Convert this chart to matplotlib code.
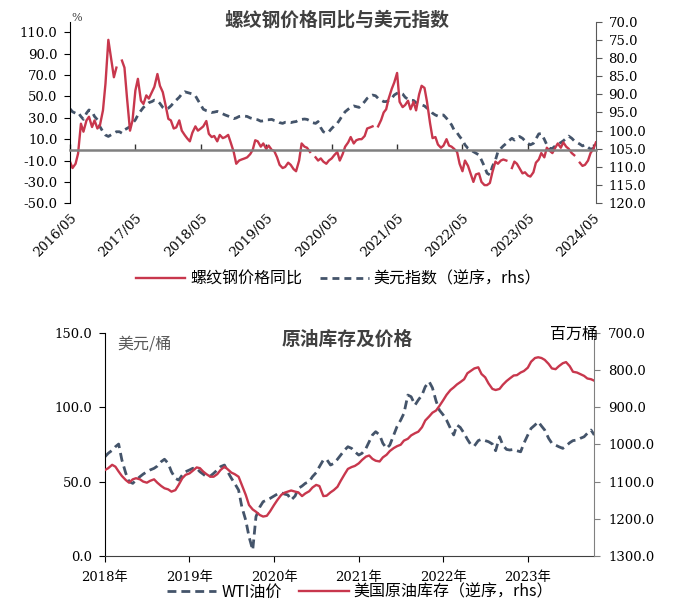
import numpy as np
import pandas as pd
import matplotlib
matplotlib.use('Agg')
import matplotlib.pyplot as plt
import matplotlib.dates as mdates
from matplotlib.ticker import FormatStrFormatter

CJK = ['Noto Sans CJK SC', 'DejaVu Sans']
NUM = ['DejaVu Serif', 'Noto Sans CJK SC']
plt.rcParams['font.family'] = NUM
plt.rcParams['axes.unicode_minus'] = False

nan = np.nan

# top chart: semi-monthly points starting 2016-05
steel_start = '2016-05-01'
steel_yoy = [
    -11, -17, -13, -3.5, 24.5, 17, 27.6, 31, 21.4, 27.6,
    20, 23, 37, 62, 103, 87, 68, 77, nan, 83.6,
    77, 49, 18, 27.6, 55.6, 66.5, 46, 43, 51, 48,
    54, 59, 71, 60, 54, 43, 29, 27.6, 20, 21,
    27.6, 18, 13.7, 10.6, 8, 16, 22, 18, 20, 22,
    27, 15, 12, 13, 8, 14, 11, 12, 14, 7,
    -2, -13, -10, -9, -8, -7, -4, 0, 9, 8,
    3, 6, 1, 4, 0, -1, -7, -14, -17, -16,
    -12, -14, -18, -20, -10, 6, 3, 2, -2, nan,
    -7, -10, -8, -11, -13, -10, -8, -5, -2, -10,
    -4, 3, 7, 12, 6, 9, 10, 10, 13, 20,
    21, 22, nan, 22, 28, 35, 38, 48, 57, 63,
    72, 45, 40, 42, 46, 38, 45, 37, 52, 60,
    58, 45, 25, 11, 12, 5, 2, 4, 10, 4,
    3, 1, -2, -13, -20, -10, -15, -22, -30, -23,
    -22, -30, -33, -33, -31, -21, -11, -13, -10, -9,
    -10, nan, -17, -11, -13, -17, -22, -21, -24, -25,
    -21, -12, -9, -3, -7, 2, -1, -3, 2, 6,
    2, 7, 3, 1, -3, -5, nan, -12, -15, -14,
    -10, -3, 1, 7,
]
dxy = [
    94, 94.8, 95.2, 95, 96.1, 96.9, 95.2, 94.3, 94.8, 96.1,
    97, 98.9, 100.3, 101.2, 101.6, 101.2, 100.7, 100.3, 100.3, 100.7,
    99.8, 99.4, 98.9, 98, 97, 95.7, 94.5, 93.6, 92.9, 92.3,
    92, 91.6, 91.8, 92.5, 93.6, 94.1, 93.8, 93.2, 92.3, 91.6,
    90.8, 89.9, 89.3, 89.5, 89.7, 89.9, 90.4, 91.6, 92.9, 94.1,
    94.5, 94.7, 95, 94.9, 94.7, 95, 95.4, 95.7, 96, 96.3,
    96.7, 96.5, 96.1, 96, 96, 96.1, 96.5, 96.7, 96.9, 97,
    97.4, 97.3, 97, 97, 96.9, 97.2, 97.4, 97.8, 98, 97.7,
    97.7, 97.8, 97.6, 97.5, 97, 96.9, 96.8, 96.9, 97.3, 97.8,
    98, 97.5, 99.2, 100.3, 100.7, 100.3, 99.4, 98.7, 98, 97,
    95.7, 94.8, 94.1, 93.6, 93.2, 93.4, 93.6, 92.9, 92, 91.1,
    90.5, 90.2, 90.4, 91.1, 91.6, 92, 92, 91.7, 91.1, 90.2,
    89.7, 89.5, 89.9, 90.8, 91.4, 91.6, 91.7, 92.3, 92.7, 92.9,
    93.2, 93.8, 94.3, 95.2, 95.7, 96, 95.7, 95.7, 96.6, 97.5,
    98.4, 99.8, 100.6, 101.6, 102.6, 103.9, 104.9, 105.3, 105.8, 106.2,
    106.7, 108.1, 109.9, 111.7, 112.2, 109.9, 108.1, 105.8, 104.9, 104.2,
    103.5, 102.8, 102.1, 102.6, 102.1, 101.6, 102.1, 102.8, 103.5, 103.9,
    103.5, 102.3, 100.9, 100.8, 102.4, 103.9, 104.9, 104.9, 104.2, 103.7,
    103.3, 102.8, 102.1, 101.5, 102.1, 102.8, 103.3, 103.7, 104.2, 103.9,
    104.6, 105.1, 104.9, 104.4,
]
steel_xticks = ['2016/05', '2017/05', '2018/05', '2019/05', '2020/05',
                '2021/05', '2022/05', '2023/05', '2024/05']

# bottom chart: semi-monthly points starting 2018-01
oil_start = '2018-01-01'
wti = [
    66.7, 69, 71, 73.4, 75.2, 64.5, 55.5, 50, 48.8, 51,
    53.3, 55, 56.6, 57.8, 58.9, 60.4, 63.4, 65, 62.2, 56.6,
    52.2, 51, 54.4, 56.6, 57.8, 58.9, 58.9, 56.6, 55, 53.3,
    53.7, 55.5, 57.8, 60, 61.1, 56.6, 52.2, 48.8, 44.3, 33,
    24, 13, 4, 26.4, 33, 36.5, 37.6, 38.7, 40.3, 41.6,
    42.5, 41.6, 41, 37.6, 40.3, 45.4, 47, 48.8, 50, 53.3,
    56, 60, 64.5, 65, 61.1, 62.2, 65, 67.8, 71.2, 73.4,
    72.3, 70, 67.8, 69, 72.3, 76.8, 81.3, 83.5, 81.3, 75.7,
    72.3, 74.5, 81.3, 86.9, 91.3, 95.8, 108.1, 107, 101.4, 104.8,
    108.1, 113.7, 117.1, 113, 104, 98, 94.7, 91.3, 85.7, 81.3,
    88, 86.4, 82.4, 78.4, 74.5, 73.9, 77.5, 78.4, 77.5, 76.8,
    75.2, 70.7, 80.1, 74.5, 71.6, 71.2, 71.6, 70.7, 70, 75.7,
    81.3, 85.7, 88, 90.2, 87.3, 84.6, 79, 75.7, 74.5, 73.4,
    72.3, 73.9, 76.1, 77.5, 77.9, 79, 80.1, 82.4, 84.6, 81.3,
]
crude_stock = [
    1069, 1064, 1055, 1060, 1073, 1085, 1096, 1103, 1094, 1091,
    1094, 1100, 1103, 1098, 1094, 1103, 1112, 1118, 1121, 1127,
    1123, 1109, 1091, 1082, 1078, 1071, 1062, 1064, 1073, 1080,
    1087, 1087, 1080, 1069, 1060, 1067, 1076, 1080, 1087, 1109,
    1136, 1163, 1175, 1181, 1190, 1194, 1192, 1180, 1163, 1150,
    1136, 1130, 1127, 1124, 1127, 1129, 1139, 1132, 1126, 1116,
    1109, 1112, 1139, 1138, 1129, 1123, 1114, 1098, 1080, 1066,
    1061, 1058, 1051, 1042, 1033, 1030, 1039, 1044, 1046, 1035,
    1028, 1018, 1010, 1005, 1001, 990, 985, 976, 970, 966,
    954, 936, 925, 915, 909, 897, 881, 867, 854, 847,
    839, 833, 825, 809, 802, 796, 793, 811, 820, 836,
    851, 854, 851, 840, 830, 823, 815, 814, 807, 803,
    794, 778, 768, 766, 768, 773, 784, 796, 798, 790,
    782, 779, 790, 805, 807, 811, 816, 823, 825, 829,
]
oil_xticks = ['2018年', '2019年', '2020年', '2021年', '2022年', '2023年']

RED = '#C8374D'
BLUE = '#44546A'

fig = plt.figure(figsize=(6.83, 6.16), dpi=100)

# ---------------- top chart ----------------
d1 = pd.date_range(steel_start, periods=len(steel_yoy), freq='SMS')
ax = fig.add_axes([0.1025, 0.670, 0.770, 0.2948])
ax2 = ax.twinx()
l1, = ax.plot(d1, steel_yoy, color=RED, lw=1.7, label='螺纹钢价格同比')
l2, = ax2.plot(d1, dxy, color=BLUE, lw=2.0, dashes=(2.5, 1.8),
               label='美元指数（逆序，rhs）')
ax.set_zorder(ax2.get_zorder() + 1)
ax.patch.set_visible(False)

ax.set_ylim(-50, 120)
ax.set_yticks(np.arange(-50, 111, 20))
ax.yaxis.set_major_formatter(FormatStrFormatter('%.1f'))
ax2.set_ylim(120, 70)
ax2.set_yticks(np.arange(70, 121, 5))
ax2.yaxis.set_major_formatter(FormatStrFormatter('%.1f'))
ax.set_xlim(d1[0], d1[-1])

xt = mdates.date2num(pd.to_datetime(steel_xticks, format='%Y/%m'))
ax.set_xticks(xt)
ax.spines['bottom'].set_position(('data', 0))
ax.spines['bottom'].set_color('#808080')
ax.spines['bottom'].set_linewidth(1.8)
ax.tick_params(axis='x', direction='in', length=4, width=1, color='#333333',
               labelbottom=False)
for s in ['top', 'right']:
    ax.spines[s].set_visible(False)
for s in ['top', 'left', 'bottom']:
    ax2.spines[s].set_visible(False)
ax.spines['left'].set_color('black')
ax2.spines['right'].set_color('#595959')
ax.tick_params(axis='y', direction='out', length=4, pad=5, labelsize=9.5)
ax2.tick_params(axis='y', direction='out', length=4, pad=5, labelsize=9.5,
                color='#595959')

sec = ax.secondary_xaxis(0)
sec.set_xticks(xt)
sec.set_xticklabels(steel_xticks, rotation=45, ha='right',
                    rotation_mode='anchor', fontsize=9.5)
sec.tick_params(length=0, pad=6)
sec.spines['bottom'].set_visible(False)

fig.text(77 / 683, 1 - 18 / 616, '%', fontsize=8, color='#404040',
         ha='center', va='center')
fig.text(0.494, 0.968, '螺纹钢价格同比与美元指数', family=CJK, fontsize=13.5,
         fontweight='bold', color='#404040', ha='center', va='center')
fig.legend(handles=[l1, l2], loc='center', bbox_to_anchor=(0.4956, 0.547),
           ncol=2, frameon=False, prop={'family': CJK, 'size': 11.5},
           handlelength=3.1, handletextpad=0.3, columnspacing=1.1)

# ---------------- bottom chart ----------------
d2 = pd.date_range(oil_start, periods=len(wti), freq='SMS')
bx = fig.add_axes([0.1537, 0.0974, 0.7164, 0.3625])
bx2 = bx.twinx()
b1, = bx.plot(d2, wti, color=BLUE, lw=2.0, dashes=(3.2, 1.8), label='WTI油价')
b2, = bx2.plot(d2, crude_stock, color=RED, lw=1.7,
               label='美国原油库存（逆序，rhs）')

bx.set_ylim(0, 150)
bx.set_yticks(np.arange(0, 151, 50))
bx.yaxis.set_major_formatter(FormatStrFormatter('%.1f'))
bx2.set_ylim(1300, 700)
bx2.set_yticks(np.arange(700, 1301, 100))
bx2.yaxis.set_major_formatter(FormatStrFormatter('%.1f'))
bx.set_xlim(d2[0], d2[-1])
bx.set_xticks(mdates.date2num(pd.to_datetime([s[:4] for s in oil_xticks])))
bx.set_xticklabels(oil_xticks, fontsize=9.5)

for s in ['top', 'right']:
    bx.spines[s].set_visible(False)
for s in ['top', 'left', 'bottom']:
    bx2.spines[s].set_visible(False)
bx.spines['left'].set_color('black')
bx.spines['bottom'].set_color('#404040')
bx2.spines['right'].set_color('#808080')
bx.tick_params(axis='x', direction='out', length=4, pad=7)
bx.tick_params(axis='y', direction='out', length=4, pad=5, labelsize=9.5)
bx2.tick_params(axis='y', direction='out', length=4, pad=6, labelsize=9.5,
                color='#808080')

fig.text(347 / 683, 1 - 339 / 616, '原油库存及价格', family=CJK, fontsize=13.5,
         fontweight='bold', color='#404040', ha='center', va='center')
fig.text(117 / 683, 1 - 344 / 616, '美元/桶', family=CJK, fontsize=11.5,
         color='#595959', ha='left', va='center')
fig.text(598 / 683, 1 - 334 / 616, '百万桶', family=CJK, fontsize=11.5,
         color='black', ha='right', va='center')
fig.legend(handles=[b1, b2], loc='center', bbox_to_anchor=(0.527, 0.039),
           ncol=2, frameon=False, prop={'family': CJK, 'size': 11.5},
           handlelength=3.1, handletextpad=0.3, columnspacing=1.1)

fig.savefig('out.png', dpi=100)
